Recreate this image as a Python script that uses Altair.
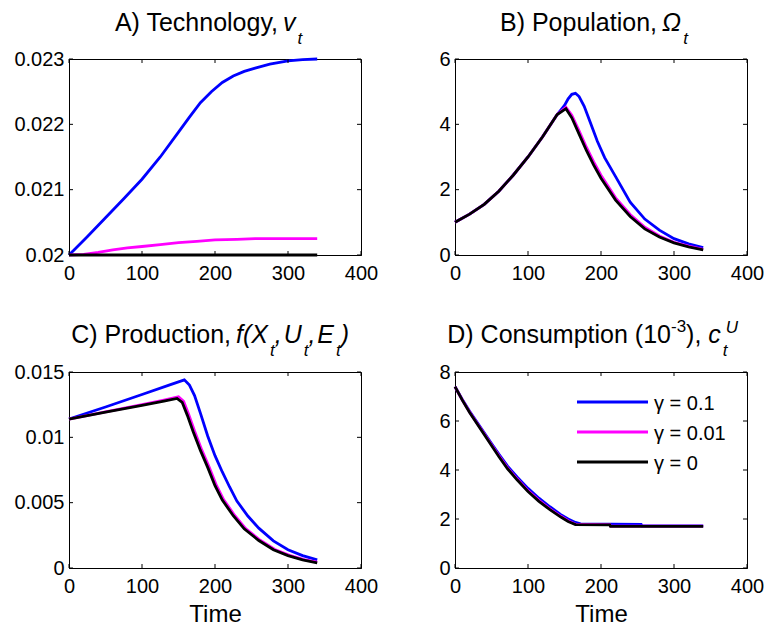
import altair as alt
import pandas as pd

FONT = "Liberation Sans"
SERIES = ["γ = 0.1", "γ = 0.01", "γ = 0"]
COLORS = ["#0000ff", "#ff00ff", "#000000"]
X_TICKS = [0, 100, 200, 300, 400]

# ---------------- Panel A: Technology ----------------
tech_t_hi = [0, 10, 25, 50, 75, 100, 125, 150, 165, 180, 195, 210, 225, 240, 255, 275, 300, 320, 340]
tech_hi = [0.02000, 0.02011, 0.02028, 0.02057, 0.02086, 0.02116, 0.02150, 0.02188, 0.02211,
           0.02233, 0.02250, 0.02264, 0.02274, 0.02281, 0.02286, 0.02292, 0.02297, 0.02299, 0.02300]
tech_t_mid = [0, 20, 40, 60, 80, 100, 125, 150, 175, 200, 230, 255, 300, 340]
tech_mid = [0.02000, 0.02001, 0.02004, 0.02008, 0.02011, 0.02013, 0.02016, 0.02019, 0.02021,
            0.02023, 0.02024, 0.02025, 0.02025, 0.02025]
tech_t_zero = [0, 340]
tech_zero = [0.02000, 0.02000]
tech_yticks = [0.02, 0.021, 0.022, 0.023]

# ---------------- Panel B: Population ----------------
pop_t_hi = [0, 20, 40, 60, 80, 100, 120, 140, 150, 155, 160, 165, 170, 177, 185, 195, 205, 220,
            240, 260, 280, 300, 320, 340]
pop_hi = [1.00, 1.25, 1.55, 1.95, 2.45, 3.00, 3.62, 4.30, 4.58, 4.78, 4.92, 4.95, 4.85, 4.55,
          4.08, 3.48, 2.98, 2.40, 1.62, 1.10, 0.76, 0.50, 0.34, 0.23]
pop_t_mid = [0, 20, 40, 60, 80, 100, 120, 140, 152, 160, 170, 180, 190, 200, 220, 240, 260,
             280, 300, 320, 340]
pop_mid = [1.00, 1.25, 1.55, 1.95, 2.45, 3.00, 3.62, 4.30, 4.52, 4.28, 3.80, 3.30, 2.85, 2.44,
           1.75, 1.24, 0.85, 0.58, 0.39, 0.27, 0.17]
pop_t_zero = [0, 20, 40, 60, 80, 100, 120, 140, 152, 160, 170, 180, 190, 200, 220, 240, 260,
              280, 300, 320, 340]
pop_zero = [1.00, 1.25, 1.55, 1.95, 2.45, 3.00, 3.62, 4.30, 4.48, 4.20, 3.70, 3.20, 2.75, 2.35,
            1.68, 1.18, 0.80, 0.55, 0.37, 0.25, 0.16]
pop_yticks = [0, 2, 4, 6]

# ---------------- Panel C: Production ----------------
prod_t_hi = [0, 50, 100, 140, 158, 165, 172, 180, 190, 200, 210, 220, 230, 245, 260, 280, 300,
             320, 340]
prod_hi = [0.01140, 0.01232, 0.01328, 0.01405, 0.01440, 0.01400, 0.01320, 0.01185, 0.01010,
           0.00860, 0.00735, 0.00620, 0.00512, 0.00398, 0.00305, 0.00208, 0.00140, 0.00095,
           0.00062]
prod_t_mid = [0, 50, 100, 130, 150, 157, 164, 172, 182, 192, 202, 212, 227, 242, 262, 282, 302,
              322, 340]
prod_mid = [0.01140, 0.01195, 0.01250, 0.01285, 0.01310, 0.01275, 0.01175, 0.01048, 0.00902,
            0.00772, 0.00632, 0.00522, 0.00402, 0.00302, 0.00212, 0.00142, 0.00097, 0.00064,
            0.00045]
prod_t_zero = [0, 50, 100, 130, 148, 155, 162, 170, 180, 190, 200, 210, 225, 240, 260, 280, 300,
               320, 340]
prod_zero = [0.01140, 0.01192, 0.01245, 0.01278, 0.01298, 0.01268, 0.01170, 0.01045, 0.00900,
             0.00770, 0.00630, 0.00520, 0.00400, 0.00300, 0.00210, 0.00140, 0.00095, 0.00062,
             0.00040]
prod_yticks = [0, 0.005, 0.01, 0.015]

# ---------------- Panel D: Consumption (1e-3) ----------------
cons_t_hi = [0, 10, 20, 30, 40, 50, 60, 72, 85, 100, 115, 130, 145, 155, 165, 172, 255, 256, 340]
cons_hi = [7.40, 6.88, 6.40, 5.96, 5.52, 5.08, 4.65, 4.16, 3.72, 3.25, 2.85, 2.50, 2.18, 2.00,
           1.86, 1.80, 1.78, 1.72, 1.72]
cons_t_mid = [0, 10, 20, 30, 40, 50, 60, 72, 85, 100, 115, 130, 145, 155, 165, 212, 213, 340]
cons_mid = [7.40, 6.86, 6.37, 5.92, 5.48, 5.03, 4.59, 4.09, 3.64, 3.16, 2.76, 2.41, 2.11, 1.93,
            1.79, 1.77, 1.71, 1.71]
cons_t_zero = [0, 10, 20, 30, 40, 50, 60, 72, 85, 100, 115, 130, 145, 155, 165, 212, 213, 340]
cons_zero = [7.40, 6.85, 6.35, 5.90, 5.45, 5.00, 4.55, 4.05, 3.60, 3.12, 2.72, 2.38, 2.08, 1.90,
             1.77, 1.76, 1.70, 1.70]
cons_yticks = [0, 2, 4, 6, 8]

# ---------------- layout / style ----------------
W, H = 292, 196
TICK = 4
LINE_W = 2.8
MAIN_SIZE, SMALL_SIZE = 25, 17
ONE = pd.DataFrame({"k": [0]})

CH_W = {' ': .278, ')': .333, '(': .333, ',': .278, 't': .278, '1': .556, '0': .556,
        '3': .556, '-': .333, 'v': .5, 'c': .5, 'f': .278, 'X': .667, 'U': .722, 'E': .667,
        'Ω': .768}


def text_w(s, size):
    return sum(CH_W.get(ch, .556) for ch in s) * size


def title_layers(head, join, gap, frags, base_y):
    """head is right-aligned so that it ends at join-gap; frags flow left-aligned from join."""
    layers = [alt.Chart(ONE).mark_text(
        text=head, font=FONT, fontSize=MAIN_SIZE, color="black", align="right",
        baseline="alphabetic").encode(x=alt.value(join - gap), y=alt.value(base_y))]
    x = join
    last_x = join
    for text, italic, role in frags:
        size = MAIN_SIZE if role == "main" else SMALL_SIZE
        if role == "sup_stack":
            px, py = last_x + 3, base_y - 10
        else:
            px, py = x, base_y + {"main": 0, "sub": 13, "sup": -11}[role]
            last_x = x
            x += text_w(text, size) + (2 if (italic and role == "main") else 0)
        layers.append(alt.Chart(ONE).mark_text(
            text=text, font=FONT, fontSize=size, color="black",
            fontStyle="italic" if italic else "normal",
            align="left", baseline="alphabetic").encode(x=alt.value(px), y=alt.value(py)))
    return layers


def panel(series_t, series_v, ydomain, yticks, title, show_time, legend=False):
    xscale = alt.Scale(domain=[0, 400], nice=False, zero=False)
    yscale = alt.Scale(domain=ydomain, nice=False, zero=False)
    xaxis = alt.Axis(values=X_TICKS, title="Time" if show_time else None,
                     labelExpr="datum.value + ''", labelFlush=False, labelOverlap=False)
    yaxis = alt.Axis(values=yticks, title=None, labelExpr="datum.value + ''",
                     labelOverlap=False)
    layers = []
    for name, col, tt, vv in zip(SERIES, COLORS, series_t, series_v):
        df = pd.DataFrame({"time": tt, "value": vv, "series": name})
        layers.append(
            alt.Chart(df).mark_line(color=col, strokeWidth=LINE_W).encode(
                x=alt.X("time:Q", scale=xscale, axis=xaxis),
                y=alt.Y("value:Q", scale=yscale, axis=yaxis),
            )
        )
    xt = pd.DataFrame({"time": X_TICKS})
    yt = pd.DataFrame({"value": yticks})
    for y0, y1 in [(H, H - TICK), (0, TICK)]:
        layers.append(alt.Chart(xt).mark_rule(color="black", strokeWidth=1).encode(
            x=alt.X("time:Q", scale=xscale, axis=xaxis), y=alt.value(y0), y2=alt.value(y1)))
    for x0, x1 in [(0, TICK), (W, W - TICK)]:
        layers.append(alt.Chart(yt).mark_rule(color="black", strokeWidth=1).encode(
            y=alt.Y("value:Q", scale=yscale, axis=yaxis), x=alt.value(x0), x2=alt.value(x1)))
    if legend:
        for i, (name, col) in enumerate(zip(SERIES, COLORS)):
            ly = 30 + 30 * i
            layers.append(alt.Chart(ONE).mark_rule(color=col, strokeWidth=3).encode(
                x=alt.value(122), x2=alt.value(193), y=alt.value(ly)))
            layers.append(alt.Chart(ONE).mark_text(
                text=name, font=FONT, fontSize=20, color="black", align="left",
                baseline="alphabetic").encode(x=alt.value(199), y=alt.value(ly + 8)))
    layers += title_layers(*title)
    return alt.layer(*layers).properties(width=W, height=H)


pA = panel([tech_t_hi, tech_t_mid, tech_t_zero], [tech_hi, tech_mid, tech_zero],
           [0.02, 0.023], tech_yticks,
           ("A) Technology,", 214, 5, [("v", True, "main"), ("t", True, "sub")], -28), False)
pB = panel([pop_t_hi, pop_t_mid, pop_t_zero], [pop_hi, pop_mid, pop_zero],
           [0, 6], pop_yticks,
           ("B) Population,", 207, 5, [("Ω", True, "main"), ("t", True, "sub")], -28), False)
pC = panel([prod_t_hi, prod_t_mid, prod_t_zero], [prod_hi, prod_mid, prod_zero],
           [0, 0.015], prod_yticks,
           ("C) Production,", 167, 5,
            [("f(X", True, "main"), ("t", True, "sub"), (",", True, "main"),
             ("U", True, "main"), ("t", True, "sub"), (",", True, "main"),
             ("E", True, "main"), ("t", True, "sub"), (")", True, "main")], -29), True)
pD = panel([cons_t_hi, cons_t_mid, cons_t_zero], [cons_hi, cons_mid, cons_zero],
           [0, 8], cons_yticks,
           ("D) Consumption (10", 216, 0,
            [("-3", False, "sup"), ("), ", False, "main"), ("c", True, "main"),
             ("t", True, "sub"), ("U", True, "sup_stack")], -29), True, legend=True)

chart = alt.concat(pA, pB, pC, pD, columns=2, spacing={"row": 117, "column": 94},
                   bounds="flush").properties(
    padding={"left": 13, "top": 10, "right": 0, "bottom": 0},
    background="white",
).configure_view(stroke="black", strokeWidth=1).configure_axis(
    labelFont=FONT, labelFontSize=20, labelColor="black",
    titleFont=FONT, titleFontSize=24, titleColor="black", titleFontWeight="normal",
    domainColor="black", domainWidth=1, tickSize=0, grid=False,
).configure_axisX(labelPadding=8, titlePadding=6).configure_axisY(labelPadding=5)

chart.save("out.html", embed_options={"renderer": "svg", "actions": False})
